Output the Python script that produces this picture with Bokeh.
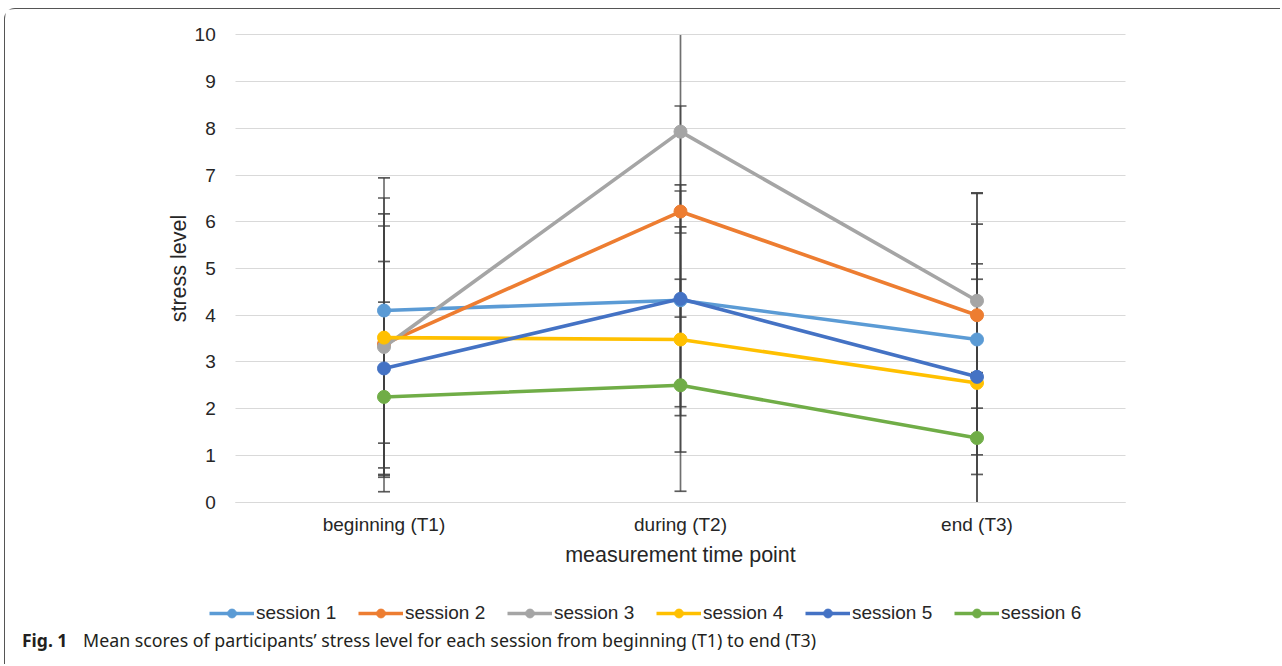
from bokeh.plotting import figure
from bokeh.models import ColumnDataSource, Legend, LegendItem, FixedTicker, Label, Range1d
from bokeh.embed import file_html
from bokeh.resources import INLINE
import numpy as np

time_points = ["beginning (T1)", "during (T2)", "end (T3)"]
sessions = ["session 1", "session 2", "session 3", "session 4", "session 5", "session 6"]
colors = ["#5B9BD5", "#ED7D31", "#A5A5A5", "#FFC000", "#4472C4", "#70AD47"]

# mean stress level per session at T1, T2, T3
session_1 = [4.10, 4.32, 3.48]
session_2 = [3.38, 6.22, 4.00]
session_3 = [3.32, 7.93, 4.31]
session_4 = [3.52, 3.48, 2.55]
session_5 = [2.86, 4.35, 2.68]
session_6 = [2.25, 2.50, 1.37]

# standard deviations (error bars) at T1, T2, T3
sd_1 = [2.84, 2.47, 2.47]
sd_2 = [2.79, 2.26, 2.62]
sd_3 = [2.59, 2.17, 2.30]
sd_4 = [2.99, 2.41, 2.55]
sd_5 = [2.29, 2.31, 2.09]
sd_6 = [2.03, 2.27, 1.40]

y_ticks = [0, 1, 2, 3, 4, 5, 6, 7, 8, 9, 10]
Y_MIN, Y_MAX = 0, 10

means = [session_1, session_2, session_3, session_4, session_5, session_6]
sds = [sd_1, sd_2, sd_3, sd_4, sd_5, sd_6]
x_idx = list(range(len(time_points)))

W, H = 1276, 656
p = figure(width=W, height=H,
           x_range=Range1d(-1.2766, 3.0270), y_range=Range1d(-3.501, 10.546),
           output_backend="svg", toolbar_location=None,
           min_border_left=0, min_border_right=0, min_border_top=0,
           min_border_bottom=0)
p.outline_line_color = None
p.background_fill_color = "white"
p.border_fill_color = "white"

FONT = "Liberation Sans"
p.yaxis.ticker = FixedTicker(ticks=y_ticks)
p.yaxis.fixed_location = -0.5
p.yaxis.bounds = (Y_MIN, Y_MAX)
p.yaxis.axis_line_color = None
p.yaxis.major_tick_line_color = None
p.yaxis.minor_tick_line_color = None
p.yaxis.major_label_standoff = 14
p.xaxis.ticker = FixedTicker(ticks=x_idx)
p.xaxis.major_label_overrides = {i: t for i, t in zip(x_idx, time_points)}
p.xaxis.fixed_location = 0
p.xaxis.bounds = (-0.5, len(time_points) - 0.5)
p.xaxis.axis_line_color = "#d9d9d9"
p.xaxis.major_tick_line_color = None
p.xaxis.minor_tick_line_color = None
p.xaxis.major_label_standoff = 6
for ax in (p.xaxis, p.yaxis):
    ax.major_label_text_font = FONT
    ax.major_label_text_font_size = "19px"
    ax.major_label_text_color = "#262626"
    ax.axis_label_text_font = FONT
    ax.axis_label_text_font_size = "21.5px"
    ax.axis_label_text_font_style = "normal"
    ax.axis_label_text_color = "#262626"
p.xaxis.axis_label = "measurement time point"
p.yaxis.axis_label = "stress level"
p.xaxis.axis_label_standoff = 4
p.yaxis.axis_label_standoff = 0
p.xgrid.grid_line_color = None
p.ygrid.grid_line_color = "#d9d9d9"
p.ygrid.grid_line_width = 1
p.ygrid.cross_bounds = (-0.5, len(time_points) - 0.5)

# error bars first (clipped to the axis range, caps only where not clipped)
for m, s in zip(means, sds):
    m = np.array(m)
    s = np.array(s)
    up = m + s
    lo = m - s
    src = ColumnDataSource(dict(x=x_idx, up=np.clip(up, Y_MIN, Y_MAX), lo=np.clip(lo, Y_MIN, Y_MAX)))
    p.segment(x0="x", y0="lo", x1="x", y1="up", source=src,
              line_color="#404040", line_alpha=0.75, line_width=1.7)
    ku = up < Y_MAX
    kl = lo > Y_MIN + 1e-9
    p.dash(x=np.array(x_idx)[ku], y=up[ku], size=12, line_color="#404040",
           line_alpha=0.85, line_width=1.7)
    p.dash(x=np.array(x_idx)[kl], y=lo[kl], size=12, line_color="#404040",
           line_alpha=0.85, line_width=1.7)

items = []
for name, m, c in zip(sessions, means, colors):
    src = ColumnDataSource(dict(x=x_idx, y=m))
    lr = p.line(x="x", y="y", source=src, line_color=c, line_width=3.6)
    cr = p.scatter(x="x", y="y", source=src, size=13, fill_color=c, line_color=c)
    items.append(LegendItem(label=name, renderers=[lr, cr]))

legend = Legend(items=items, orientation="horizontal", location=(204, 41),
                glyph_width=45, glyph_height=22, label_standoff=2, spacing=21,
                label_width=81, label_height=22, padding=0, margin=0,
                border_line_alpha=0, background_fill_alpha=0,
                label_text_font=FONT, label_text_font_size="19px",
                label_text_color="#262626", label_text_baseline="middle")
p.add_layout(legend, "center")

cap1 = Label(x=-1.221, y=-2.955, text="Fig. 1",
             text_font="Noto Sans", text_font_style="bold", text_font_size="17.5px",
             text_color="#231f20", text_baseline="middle")
cap2 = Label(x=-1.015, y=-2.955,
             text="Mean scores of participants\u2019 stress level for each session from beginning (T1) to end (T3)",
             text_font="Noto Sans", text_font_size="17.8px",
             text_color="#231f20", text_baseline="middle")
p.add_layout(cap1)
p.add_layout(cap2)

p.styles = {"border-left": "1.5px solid #555555", "border-top": "1.5px solid #555555",
            "border-top-left-radius": "11px", "margin-left": "4px", "margin-top": "8px"}

open("out.html", "w").write(file_html(p, INLINE))
